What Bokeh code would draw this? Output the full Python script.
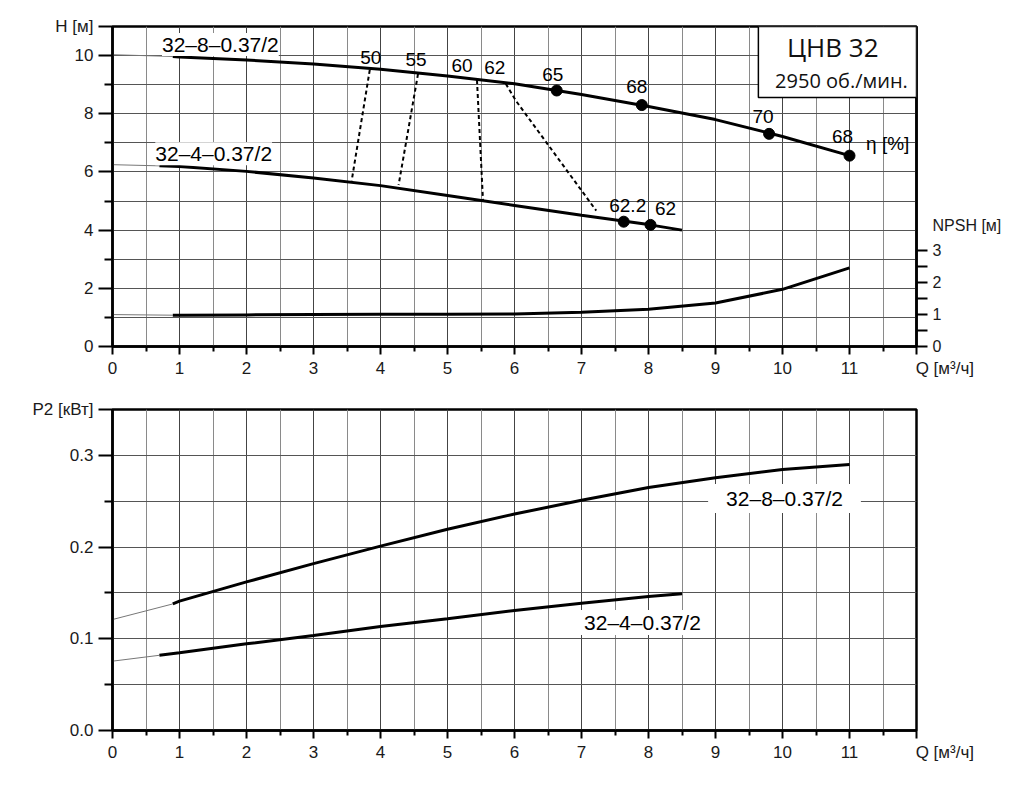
from bokeh.plotting import figure
from bokeh.models import Range1d, LinearAxis, FixedTicker, Label, BoxAnnotation, ColumnDataSource
from bokeh.layouts import column
from bokeh.embed import file_html
from bokeh.resources import INLINE
from bokeh.core.properties import value

# ---------------- data ----------------
# H-Q curves (top chart)
q_h8_thin = [0.0, 0.9]
h8_thin = [10.03, 9.97]
q_h8 = [0.9, 1, 2, 3, 4, 5, 6, 7, 8, 9, 10, 11]
h8 = [9.97, 9.95, 9.85, 9.71, 9.53, 9.30, 9.03, 8.66, 8.25, 7.80, 7.22, 6.56]

q_h4_thin = [0.0, 0.7]
h4_thin = [6.25, 6.21]
q_h4 = [0.7, 1, 2, 3, 4, 5, 6, 7, 8, 8.5]
h4 = [6.21, 6.19, 6.02, 5.79, 5.53, 5.19, 4.85, 4.51, 4.19, 4.00]

# NPSH curve (right axis)
q_npsh_thin = [0.0, 0.9]
npsh_thin = [1.00, 0.98]
q_npsh = [0.9, 1, 2, 3, 4, 5, 6, 7, 8, 9, 10, 11]
npsh = [0.98, 0.98, 0.99, 1.00, 1.01, 1.01, 1.02, 1.07, 1.17, 1.36, 1.79, 2.46]

# efficiency points
eta8_q = [6.63, 7.9, 9.8, 11.0]
eta8_h = [8.80, 8.30, 7.31, 6.56]
eta8_lbl = ["65", "68", "70", "68"]
eta4_q = [7.63, 8.03]
eta4_h = [4.29, 4.18]
eta4_lbl = ["62.2", "62"]

# iso-efficiency dashed lines
iso_lbl = ["50", "55", "60", "62"]
iso_q = [[3.84, 3.57], [4.56, 4.27], [5.44, 5.53], [5.87, 6.02, 7.22]]
iso_h = [[9.51, 5.70], [9.37, 5.55], [9.16, 5.01], [9.03, 8.45, 4.67]]

# P2-Q curves (bottom chart)
q_p8_thin = [0.0, 0.9]
p8_thin = [0.121, 0.138]
q_p8 = [0.9, 1, 2, 3, 4, 5, 6, 7, 8, 9, 10, 11]
p8 = [0.138, 0.141, 0.162, 0.182, 0.201, 0.2195, 0.236, 0.251, 0.265, 0.2755, 0.2845, 0.290]

q_p4_thin = [0.0, 0.7]
p4_thin = [0.0756, 0.082]
q_p4 = [0.7, 1, 2, 3, 4, 5, 6, 7, 8, 8.5]
p4 = [0.082, 0.0847, 0.0945, 0.1036, 0.1134, 0.1218, 0.1309, 0.1388, 0.1461, 0.149]

NB = "\u00a0"
q_title = NB * 12 + "Q [\u043c\u00b3/\u0447]"
x_ticks = list(range(13))
x_labels = {12: q_title}
h_ticks = [0, 2, 4, 6, 8, 10, 11]
h_labels = {11: "H [\u043c]"}
npsh_ticks = [0, 1, 2, 3, 3.78]
npsh_labels = {3.78: "NPSH [\u043c]"}
p_ticks = [0.0, 0.1, 0.2, 0.3, 0.35]
p_labels = {0.0: "0.0", 0.1: "0.1", 0.2: "0.2", 0.3: "0.3", 0.35: "P2 [\u043a\u0412\u0442]"}

model8 = "32\u20138\u20130.37/2"
model4 = "32\u20134\u20130.37/2"

FONT = "Liberation Sans"
TICK_COLOR = "#1a1a1a"


def style_x(p):
    ax = p.xaxis[0]
    ax.ticker = FixedTicker(ticks=x_ticks, minor_ticks=[i + 0.5 for i in range(12)])
    ax.major_label_overrides = x_labels
    ax.major_tick_out = 8
    ax.minor_tick_out = 5
    ax.major_tick_in = 0
    ax.minor_tick_in = 0
    ax.axis_line_width = 2.5
    ax.axis_line_color = "black"
    ax.major_tick_line_width = 2
    ax.minor_tick_line_width = 2
    ax.major_label_text_font = FONT
    ax.major_label_text_font_size = "17px"
    ax.major_label_text_color = TICK_COLOR
    ax.major_label_standoff = 4
    p.xgrid.grid_line_color = "#444444"
    p.xgrid.grid_line_width = 1
    p.xgrid.minor_grid_line_color = "#8a8a8a"
    p.xgrid.minor_grid_line_width = 1


def style_y(ax, size="17px"):
    ax.major_tick_out = 14
    ax.minor_tick_out = 8
    ax.major_tick_in = 0
    ax.minor_tick_in = 0
    ax.axis_line_width = 2.5
    ax.axis_line_color = "black"
    ax.major_tick_line_width = 2
    ax.minor_tick_line_width = 2
    ax.major_label_text_font = FONT
    ax.major_label_text_font_size = size
    ax.major_label_text_color = TICK_COLOR
    ax.major_label_standoff = 5


def base_fig(fw, fh, yr, top, bottom):
    p = figure(frame_width=fw, frame_height=fh, x_range=Range1d(0, 12), y_range=yr,
               output_backend="svg", toolbar_location=None,
               min_border_left=112, min_border_right=95,
               min_border_top=top, min_border_bottom=bottom)
    p.outline_line_color = "black"
    p.outline_line_width = 2.5
    p.outline_line_alpha = 1
    p.background_fill_color = "white"
    p.border_fill_color = "white"
    style_x(p)
    return p


# ---------------- top chart ----------------
p1 = base_fig(804, 320, Range1d(0, 11), 26, 34)
ya = p1.yaxis[0]
ya.ticker = FixedTicker(ticks=h_ticks, minor_ticks=[1, 3, 5, 7, 9])
ya.major_label_overrides = h_labels
style_y(ya)
p1.ygrid.ticker = FixedTicker(ticks=list(range(12)))
p1.ygrid.grid_line_color = "#555555"
p1.ygrid.grid_line_width = 1

p1.extra_y_ranges = {"npsh": Range1d(0, 10.02)}
ax_n = LinearAxis(y_range_name="npsh",
                  ticker=FixedTicker(ticks=npsh_ticks,
                                     minor_ticks=[0, 0.5, 1, 1.5, 2, 2.5, 3]))
style_y(ax_n, "16px")
ax_n.major_label_overrides = npsh_labels
ax_n.major_tick_line_color = None
ax_n.major_tick_out = 11
ax_n.minor_tick_out = 11
ax_n.major_label_standoff = 5
p1.add_layout(ax_n, "right")

# curves
p1.line(q_h8_thin, h8_thin, line_color="#777777", line_width=1)
p1.line(q_h8, h8, line_color="black", line_width=3)
p1.line(q_h4_thin, h4_thin, line_color="#777777", line_width=1)
p1.line(q_h4, h4, line_color="black", line_width=3)
p1.line(q_npsh_thin, npsh_thin, line_color="#777777", line_width=1, y_range_name="npsh")
p1.line(q_npsh, npsh, line_color="black", line_width=3, y_range_name="npsh")

# iso-efficiency dashed lines
p1.multi_line(iso_q, iso_h, line_color="black", line_width=2, line_dash="4 3")

# efficiency points
p1.scatter(eta8_q, eta8_h, size=11, color="black")
p1.scatter(eta4_q, eta4_h, size=11, color="black")

lbl_src = ColumnDataSource(dict(
    x=eta8_q + eta4_q + [q[0] for q in iso_q],
    y=eta8_h + eta4_h + [h[0] for h in iso_h],
    text=eta8_lbl + eta4_lbl + iso_lbl,
    xo=[-4, -5, -6, -7, 4, 15, 1, -2, -15, -11],
    yo=[-16, -19, -17, -19, -16, -16, -12, -14, -15, -16],
))
p1.text(x="x", y="y", text="text", x_offset="xo", y_offset="yo", source=lbl_src,
        text_font=value(FONT), text_font_size="19px", text_align="center",
        text_baseline="middle", text_color="black")

p1.add_layout(Label(x=11.57, y=6.97, text="\u03b7 [%]", text_font=FONT, text_font_size="19px",
                    text_align="center", text_baseline="middle", text_color="black"))

for txt, xx, yy in [(model8, 1.61, 10.38), (model4, 1.51, 6.63)]:
    p1.add_layout(Label(x=xx, y=yy, text=txt, text_font=FONT, text_font_size="21px",
                        text_align="center", text_baseline="middle", text_color="black",
                        background_fill_color="white", background_fill_alpha=1.0))

# title box
p1.add_layout(BoxAnnotation(left=9.64, right=12, bottom=8.56, top=11,
                            fill_color="white", fill_alpha=1.0,
                            line_color="black", line_width=1.5, line_alpha=1.0))
p1.add_layout(Label(x=10.75, y=10.28, text="\u0426\u041d\u0412 32", text_font="Open Sans",
                    text_font_size="26px", text_align="center", text_baseline="middle",
                    text_color="#111111"))
p1.add_layout(Label(x=10.88, y=9.14, text="2950 \u043e\u0431./\u043c\u0438\u043d.", text_font="Open Sans",
                    text_font_size="20px", text_align="center", text_baseline="middle",
                    text_color="#111111"))

# ---------------- bottom chart ----------------
p2 = base_fig(804, 321, Range1d(0, 0.35), 29, 40)
yb = p2.yaxis[0]
yb.ticker = FixedTicker(ticks=p_ticks, minor_ticks=[0.05, 0.15, 0.25])
yb.major_label_overrides = p_labels
style_y(yb)
p2.ygrid.ticker = FixedTicker(ticks=[0.0, 0.05, 0.1, 0.15, 0.2, 0.25, 0.3, 0.35])
p2.ygrid.grid_line_color = "#555555"
p2.ygrid.grid_line_width = 1

p2.line(q_p8_thin, p8_thin, line_color="#777777", line_width=1)
p2.line(q_p8, p8, line_color="black", line_width=3)
p2.line(q_p4_thin, p4_thin, line_color="#777777", line_width=1)
p2.line(q_p4, p4, line_color="black", line_width=3)

for txt, xx, yy, pad in [(model8, 10.03, 0.253, (18, 3)), (model4, 7.91, 0.1178, (5, 1))]:
    p2.add_layout(Label(x=xx, y=yy, text=txt, text_font=FONT, text_font_size="21px",
                        text_align="center", text_baseline="middle", text_color="black",
                        background_fill_color="white", background_fill_alpha=1.0,
                        padding=pad))

layout = column(p1, p2)
open("out.html", "w").write(file_html(layout, INLINE))
